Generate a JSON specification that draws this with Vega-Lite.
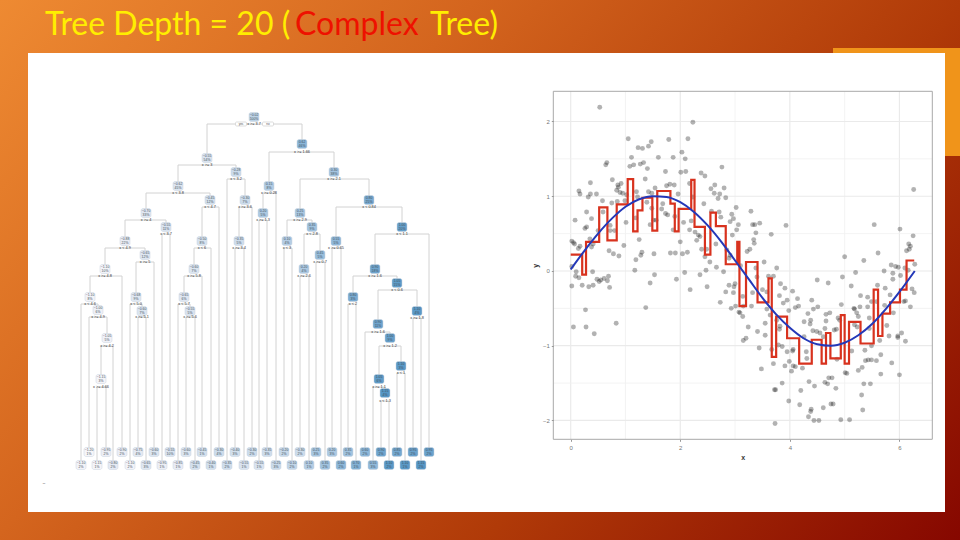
{"$schema":"https://vega.github.io/schema/vega-lite/v6.json","width":960,"height":540,"padding":0,"autosize":"none","view":{"stroke":null},"config":{"view":{"stroke":null}},
"datasets":{
"nodes":[{"x":254,"y":117,"y2":117,"v":-0.02,"pct":"100%"},{"x":207,"y":158,"y2":124,"v":-0.55,"pct":"54%"},{"x":302,"y":144,"y2":124,"v":0.62,"pct":"46%"},{"x":178,"y":186,"y2":165,"v":-0.62,"pct":"45%"},{"x":236,"y":172,"y2":165,"v":-0.28,"pct":"9%"},{"x":146,"y":213,"y2":193,"v":-0.7,"pct":"33%"},{"x":210,"y":200,"y2":193,"v":-0.45,"pct":"12%"},{"x":125,"y":241,"y2":220,"v":-0.88,"pct":"22%"},{"x":166,"y":227,"y2":220,"v":-0.55,"pct":"11%"},{"x":105,"y":269,"y2":248,"v":-1.1,"pct":"10%"},{"x":145,"y":255,"y2":248,"v":-0.65,"pct":"12%"},{"x":90,"y":297,"y2":276,"v":-1.1,"pct":"8%"},{"x":98,"y":310,"y2":304,"v":-1.0,"pct":"6%"},{"x":107,"y":338,"y2":317,"v":-1.05,"pct":"5%"},{"x":101,"y":379,"y2":346,"v":-1.15,"pct":"3%"},{"x":136,"y":297,"y2":262,"v":-0.68,"pct":"9%"},{"x":142,"y":311,"y2":304,"v":-0.6,"pct":"7%"},{"x":202,"y":241,"y2":207,"v":-0.5,"pct":"8%"},{"x":194,"y":269,"y2":248,"v":-0.6,"pct":"7%"},{"x":184,"y":297,"y2":276,"v":-0.65,"pct":"6%"},{"x":190,"y":311,"y2":304,"v":-0.55,"pct":"5%"},{"x":245,"y":200,"y2":179,"v":-0.3,"pct":"7%"},{"x":239,"y":241,"y2":207,"v":-0.35,"pct":"5%"},{"x":269,"y":186,"y2":152,"v":0.15,"pct":"8%"},{"x":334,"y":172,"y2":152,"v":0.3,"pct":"38%"},{"x":263,"y":213,"y2":193,"v":0.2,"pct":"5%"},{"x":300,"y":213,"y2":179,"v":0.25,"pct":"13%"},{"x":369,"y":200,"y2":179,"v":0.8,"pct":"25%"},{"x":287,"y":241,"y2":220,"v":0.1,"pct":"4%"},{"x":312,"y":227,"y2":220,"v":0.35,"pct":"9%"},{"x":304,"y":269,"y2":234,"v":0.2,"pct":"4%"},{"x":320,"y":255,"y2":234,"v":0.45,"pct":"5%"},{"x":336,"y":241,"y2":207,"v":0.55,"pct":"5%"},{"x":402,"y":227,"y2":207,"v":1.0,"pct":"20%"},{"x":375,"y":269,"y2":234,"v":0.9,"pct":"18%"},{"x":353,"y":297,"y2":276,"v":0.8,"pct":"3%"},{"x":397,"y":283,"y2":276,"v":1.05,"pct":"15%"},{"x":378,"y":324,"y2":290,"v":0.9,"pct":"11%"},{"x":417,"y":311,"y2":290,"v":1.1,"pct":"4%"},{"x":390,"y":338,"y2":332,"v":1.0,"pct":"9%"},{"x":379,"y":379,"y2":346,"v":1.05,"pct":"6%"},{"x":401,"y":366,"y2":346,"v":1.1,"pct":"3%"},{"x":385,"y":393,"y2":387,"v":1.15,"pct":"4%"},
{"x":81,"y":465,"y2":304,"v":-1.1,"pct":"2%"},{"x":89,"y":452,"y2":317,"v":-1.2,"pct":"1%"},{"x":97,"y":465,"y2":387,"v":-1.15,"pct":"1%"},{"x":106,"y":452,"y2":387,"v":-0.95,"pct":"2%"},{"x":113,"y":465,"y2":346,"v":-0.8,"pct":"2%"},{"x":122,"y":452,"y2":276,"v":-0.9,"pct":"2%"},{"x":130,"y":465,"y2":304,"v":-1.1,"pct":"2%"},{"x":138,"y":452,"y2":317,"v":-0.75,"pct":"4%"},{"x":146,"y":465,"y2":317,"v":-0.65,"pct":"3%"},{"x":154,"y":452,"y2":262,"v":-0.6,"pct":"3%"},{"x":162,"y":465,"y2":234,"v":-0.95,"pct":"1%"},{"x":170,"y":452,"y2":234,"v":-0.55,"pct":"10%"},{"x":178,"y":465,"y2":304,"v":-0.85,"pct":"1%"},{"x":186,"y":452,"y2":317,"v":-0.6,"pct":"3%"},{"x":195,"y":465,"y2":317,"v":-0.45,"pct":"2%"},{"x":202,"y":452,"y2":276,"v":-0.45,"pct":"1%"},{"x":211,"y":465,"y2":248,"v":-0.4,"pct":"1%"},{"x":219,"y":452,"y2":207,"v":-0.3,"pct":"4%"},{"x":227,"y":465,"y2":179,"v":-0.35,"pct":"2%"},{"x":235,"y":452,"y2":248,"v":-0.4,"pct":"3%"},{"x":244,"y":465,"y2":248,"v":-0.55,"pct":"1%"},{"x":252,"y":452,"y2":207,"v":-0.3,"pct":"2%"},{"x":259,"y":465,"y2":220,"v":-0.55,"pct":"1%"},{"x":267,"y":452,"y2":220,"v":-0.35,"pct":"3%"},{"x":276,"y":465,"y2":193,"v":-0.25,"pct":"3%"},{"x":284,"y":452,"y2":248,"v":-0.2,"pct":"2%"},{"x":292,"y":465,"y2":248,"v":-0.1,"pct":"2%"},{"x":300,"y":452,"y2":276,"v":-0.3,"pct":"2%"},{"x":309,"y":465,"y2":276,"v":0.1,"pct":"1%"},{"x":316,"y":452,"y2":262,"v":0.25,"pct":"3%"},{"x":325,"y":465,"y2":262,"v":0.35,"pct":"2%"},{"x":332,"y":452,"y2":248,"v":0.2,"pct":"3%"},{"x":341,"y":465,"y2":248,"v":0.6,"pct":"2%"},{"x":348,"y":452,"y2":304,"v":0.35,"pct":"2%"},{"x":356,"y":465,"y2":304,"v":0.7,"pct":"1%"},{"x":365,"y":452,"y2":332,"v":0.6,"pct":"2%"},{"x":373,"y":465,"y2":387,"v":0.55,"pct":"3%"},{"x":381,"y":452,"y2":401,"v":0.9,"pct":"2%"},{"x":389,"y":465,"y2":401,"v":1.1,"pct":"2%"},{"x":397,"y":452,"y2":373,"v":0.85,"pct":"2%"},{"x":405,"y":465,"y2":373,"v":1.1,"pct":"1%"},{"x":413,"y":452,"y2":318,"v":0.95,"pct":"2%"},{"x":421,"y":465,"y2":318,"v":1.15,"pct":"2%"},{"x":429,"y":452,"y2":234,"v":0.95,"pct":"2%"}],
"splits":[{"x":207,"x2":302,"y":124,"cx":254,"label":"x >= 3.7"},{"x":178,"x2":236,"y":165,"cx":207,"label":"x >= 3"},{"x":146,"x2":210,"y":193,"cx":178,"label":"x < 3.8"},{"x":125,"x2":166,"y":220,"cx":146,"label":"x >= 4"},{"x":105,"x2":145,"y":248,"cx":125,"label":"x < 4.9"},{"x":90,"x2":122,"y":276,"cx":105,"label":"x >= 4.8"},{"x":81,"x2":98,"y":304,"cx":90,"label":"x < 4.6"},{"x":89,"x2":107,"y":317,"cx":98,"label":"x >= 4.9"},{"x":101,"x2":113,"y":346,"cx":107,"label":"x >= 4.2"},{"x":97,"x2":106,"y":387,"cx":101,"label":"x >= 4.66"},{"x":136,"x2":154,"y":262,"cx":145,"label":"x >= 5"},{"x":130,"x2":142,"y":304,"cx":136,"label":"x < 5.0"},{"x":138,"x2":146,"y":317,"cx":142,"label":"x >= 5.1"},{"x":162,"x2":170,"y":234,"cx":166,"label":"x < 3.7"},{"x":202,"x2":219,"y":207,"cx":210,"label":"x < 4.7"},{"x":194,"x2":211,"y":248,"cx":202,"label":"x < 6"},{"x":184,"x2":202,"y":276,"cx":194,"label":"x >= 5.8"},{"x":178,"x2":190,"y":304,"cx":184,"label":"x < 5.7"},{"x":186,"x2":195,"y":317,"cx":190,"label":"x >= 5.6"},{"x":227,"x2":245,"y":179,"cx":236,"label":"x < 3.2"},{"x":239,"x2":252,"y":207,"cx":245,"label":"x >= 3.6"},{"x":235,"x2":244,"y":248,"cx":239,"label":"x >= 3.4"},{"x":269,"x2":334,"y":152,"cx":302,"label":"x >= 1.66"},{"x":263,"x2":276,"y":193,"cx":269,"label":"x >= 0.28"},{"x":259,"x2":267,"y":220,"cx":263,"label":"x >= 1.3"},{"x":300,"x2":369,"y":179,"cx":334,"label":"x >= 2.1"},{"x":287,"x2":312,"y":220,"cx":300,"label":"x >= 2.9"},{"x":284,"x2":292,"y":248,"cx":287,"label":"x < 3"},{"x":304,"x2":320,"y":234,"cx":312,"label":"x < 2.8"},{"x":300,"x2":309,"y":276,"cx":304,"label":"x >= 2.6"},{"x":316,"x2":325,"y":262,"cx":320,"label":"x >= 0.7"},{"x":336,"x2":402,"y":207,"cx":369,"label":"x < 0.84"},{"x":332,"x2":341,"y":248,"cx":336,"label":"x >= 0.65"},{"x":375,"x2":429,"y":234,"cx":402,"label":"x < 1.1"},{"x":353,"x2":397,"y":276,"cx":375,"label":"x >= 1.6"},{"x":348,"x2":356,"y":304,"cx":353,"label":"x < 2"},{"x":378,"x2":417,"y":290,"cx":397,"label":"x < 0.6"},{"x":413,"x2":421,"y":318,"cx":417,"label":"x >= 1.8"},{"x":365,"x2":390,"y":332,"cx":378,"label":"x >= 1.6"},{"x":379,"x2":401,"y":346,"cx":390,"label":"x >= 1.2"},{"x":397,"x2":405,"y":373,"cx":401,"label":"x < 1"},{"x":373,"x2":385,"y":387,"cx":379,"label":"x >= 1.1"},{"x":381,"x2":389,"y":401,"cx":385,"label":"x < 1.3"}],
"pts":[{"x":0.53,"y":2.19},{"x":2.23,"y":1.99},{"x":1.05,"y":1.77},{"x":1.79,"y":1.76},{"x":2.14,"y":1.77},{"x":1.47,"y":1.73},{"x":1.42,"y":1.67},{"x":1.23,"y":1.65},{"x":1.31,"y":1.64},{"x":2.03,"y":1.59},{"x":1.11,"y":1.52},{"x":1.6,"y":1.52},{"x":1.87,"y":1.52},{"x":2.09,"y":1.5},{"x":0.66,"y":1.45},{"x":0.64,"y":1.42},{"x":1.08,"y":1.4},{"x":1.15,"y":1.42},{"x":1.27,"y":1.43},{"x":1.33,"y":1.45},{"x":1.4,"y":1.37},{"x":1.73,"y":1.33},{"x":2.01,"y":1.32},{"x":2.1,"y":1.33},{"x":2.38,"y":1.31},{"x":2.45,"y":1.27},{"x":2.76,"y":1.39},{"x":1.36,"y":1.23},{"x":0.76,"y":1.22},{"x":0.36,"y":1.18},{"x":0.92,"y":1.17},{"x":0.86,"y":1.15},{"x":0.87,"y":1.12},{"x":0.84,"y":1.08},{"x":0.9,"y":1.05},{"x":0.15,"y":1.07},{"x":0.17,"y":1.03},{"x":0.36,"y":1.03},{"x":0.32,"y":0.99},{"x":0.47,"y":1.03},{"x":0.95,"y":1.04},{"x":1.02,"y":1.02},{"x":1.2,"y":1.06},{"x":1.22,"y":0.99},{"x":1.42,"y":1.06},{"x":1.54,"y":1.11},{"x":1.48,"y":1.04},{"x":1.75,"y":1.14},{"x":1.81,"y":1.16},{"x":1.89,"y":1.15},{"x":1.96,"y":1.03},{"x":2.17,"y":1.17},{"x":2.23,"y":0.99},{"x":2.56,"y":1.1},{"x":2.63,"y":1.15},{"x":2.8,"y":1.11},{"x":2.62,"y":1.04},{"x":2.72,"y":1.03},{"x":2.69,"y":0.97},{"x":2.83,"y":0.98},{"x":2.43,"y":0.9},{"x":3.02,"y":0.85},{"x":0.58,"y":0.94},{"x":0.75,"y":0.91},{"x":0.85,"y":0.93},{"x":0.99,"y":0.94},{"x":1.39,"y":0.92},{"x":1.68,"y":0.9},{"x":0.29,"y":0.79},{"x":0.59,"y":0.79},{"x":0.38,"y":0.7},{"x":0.08,"y":0.68},{"x":1.01,"y":0.65},{"x":1.19,"y":0.71},{"x":1.48,"y":0.84},{"x":1.66,"y":0.83},{"x":1.73,"y":0.77},{"x":1.77,"y":0.75},{"x":1.51,"y":0.68},{"x":1.56,"y":0.68},{"x":1.45,"y":0.62},{"x":1.9,"y":0.73},{"x":2.06,"y":0.65},{"x":2.2,"y":0.67},{"x":2.57,"y":0.8},{"x":2.71,"y":0.79},{"x":2.74,"y":0.72},{"x":2.94,"y":0.76},{"x":2.97,"y":0.7},{"x":2.91,"y":0.66},{"x":3.06,"y":0.62},{"x":3.03,"y":0.55},{"x":2.95,"y":0.48},{"x":0.26,"y":0.57},{"x":0.29,"y":0.59},{"x":0.5,"y":0.54},{"x":0.72,"y":0.61},{"x":0.72,"y":0.54},{"x":0.8,"y":0.54},{"x":1.87,"y":0.55},{"x":2.17,"y":0.55},{"x":2.27,"y":0.52},{"x":2.33,"y":0.48},{"x":2.36,"y":0.46},{"x":2.3,"y":0.41},{"x":2.0,"y":0.39},{"x":1.25,"y":0.42},{"x":0.02,"y":0.4},{"x":0.05,"y":0.38},{"x":0.07,"y":0.36},{"x":0.35,"y":0.43},{"x":0.17,"y":0.33},{"x":0.14,"y":0.3},{"x":0.41,"y":0.36},{"x":0.38,"y":0.32},{"x":0.97,"y":0.34},{"x":0.7,"y":0.27},{"x":0.78,"y":0.23},{"x":0.88,"y":0.2},{"x":1.3,"y":0.25},{"x":1.28,"y":0.21},{"x":1.19,"y":0.15},{"x":1.52,"y":0.23},{"x":1.82,"y":0.24},{"x":1.91,"y":0.24},{"x":2.04,"y":0.23},{"x":2.13,"y":0.25},{"x":2.39,"y":0.29},{"x":2.48,"y":0.29},{"x":2.45,"y":0.19},{"x":2.54,"y":0.12},{"x":2.66,"y":0.05},{"x":2.47,"y":0.01},{"x":1.17,"y":0.01},{"x":2.91,"y":0.21},{"x":2.85,"y":0.28},{"x":2.89,"y":0.17},{"x":2.65,"y":0.36},{"x":0.02,"y":0.06},{"x":0.1,"y":-0.01},{"x":0.4,"y":-0.01},{"x":1.53,"y":-0.05},{"x":2.08,"y":-0.02},{"x":2.36,"y":-0.05},{"x":2.79,"y":-0.01},{"x":0.02,"y":-0.2},{"x":0.09,"y":-0.07},{"x":0.15,"y":-0.09},{"x":0.21,"y":-0.19},{"x":0.33,"y":-0.21},{"x":0.41,"y":-0.19},{"x":0.48,"y":-0.11},{"x":0.52,"y":-0.14},{"x":0.55,"y":-0.12},{"x":0.61,"y":-0.1},{"x":0.69,"y":-0.07},{"x":0.67,"y":-0.13},{"x":0.71,"y":-0.22},{"x":1.45,"y":-0.16},{"x":1.93,"y":-0.11},{"x":2.18,"y":-0.25},{"x":2.49,"y":-0.21},{"x":2.89,"y":-0.19},{"x":3.0,"y":-0.17},{"x":2.98,"y":-0.21},{"x":2.83,"y":-0.28},{"x":2.97,"y":-0.29},{"x":2.73,"y":-0.42},{"x":2.93,"y":-0.5},{"x":3.01,"y":-0.47},{"x":3.07,"y":-0.55},{"x":1.37,"y":-0.49},{"x":0.27,"y":-0.52},{"x":0.05,"y":-0.75},{"x":0.28,"y":-0.75},{"x":0.43,"y":-0.84},{"x":0.83,"y":-0.7},{"x":6.26,"y":1.09},{"x":3.29,"y":0.8},{"x":3.32,"y":0.62},{"x":3.36,"y":0.62},{"x":3.45,"y":0.64},{"x":3.93,"y":0.61},{"x":3.38,"y":0.51},{"x":3.66,"y":0.49},{"x":3.34,"y":0.42},{"x":3.35,"y":0.37},{"x":3.27,"y":0.29},{"x":3.22,"y":0.26},{"x":3.53,"y":0.12},{"x":3.76,"y":0.04},{"x":3.38,"y":0.04},{"x":3.1,"y":0.07},{"x":5.54,"y":0.62},{"x":6.01,"y":0.56},{"x":6.25,"y":0.47},{"x":6.17,"y":0.36},{"x":6.2,"y":0.33},{"x":6.18,"y":0.29},{"x":6.13,"y":0.27},{"x":5.61,"y":0.24},{"x":5.0,"y":0.19},{"x":5.35,"y":0.14},{"x":5.85,"y":0.08},{"x":5.93,"y":0.06},{"x":5.98,"y":0.05},{"x":6.28,"y":0.09},{"x":5.72,"y":0.0},{"x":6.1,"y":0.04},{"x":6.16,"y":0.01},{"x":4.96,"y":-0.08},{"x":5.2,"y":-0.02},{"x":5.88,"y":-0.03},{"x":5.88,"y":-0.11},{"x":6.02,"y":-0.06},{"x":4.5,"y":-0.12},{"x":4.7,"y":-0.16},{"x":3.83,"y":-0.17},{"x":3.91,"y":-0.23},{"x":4.05,"y":-0.27},{"x":3.81,"y":-0.33},{"x":3.95,"y":-0.39},{"x":4.14,"y":-0.37},{"x":3.88,"y":-0.43},{"x":4.16,"y":-0.47},{"x":4.1,"y":-0.49},{"x":3.98,"y":-0.53},{"x":4.4,"y":-0.39},{"x":4.43,"y":-0.51},{"x":4.51,"y":-0.48},{"x":4.33,"y":-0.57},{"x":5.12,"y":-0.2},{"x":5.29,"y":-0.33},{"x":5.42,"y":-0.35},{"x":5.6,"y":-0.19},{"x":5.74,"y":-0.23},{"x":5.83,"y":-0.32},{"x":6.23,"y":-0.24},{"x":6.27,"y":-0.29},{"x":6.11,"y":-0.4},{"x":6.2,"y":-0.48},{"x":4.94,"y":-0.45},{"x":5.17,"y":-0.5},{"x":5.28,"y":-0.48},{"x":5.42,"y":-0.48},{"x":5.22,"y":-0.56},{"x":5.25,"y":-0.61},{"x":5.45,"y":-0.63},{"x":5.45,"y":-0.77},{"x":5.58,"y":-0.41},{"x":5.73,"y":-0.46},{"x":5.89,"y":-0.56},{"x":5.77,"y":-0.73},{"x":5.81,"y":-0.87},{"x":5.97,"y":-0.87},{"x":6.04,"y":-0.83},{"x":5.97,"y":-0.89},{"x":6.11,"y":-0.94},{"x":4.38,"y":-0.66},{"x":4.26,"y":-0.68},{"x":4.37,"y":-0.71},{"x":4.66,"y":-0.67},{"x":4.66,"y":-0.58},{"x":4.73,"y":-0.56},{"x":4.88,"y":-0.63},{"x":4.91,"y":-0.66},{"x":4.85,"y":-0.78},{"x":4.81,"y":-0.79},{"x":4.49,"y":-0.81},{"x":4.55,"y":-0.83},{"x":4.61,"y":-0.88},{"x":4.42,"y":-0.8},{"x":4.26,"y":-0.88},{"x":3.82,"y":-0.74},{"x":3.81,"y":-0.78},{"x":3.55,"y":-0.7},{"x":3.24,"y":-0.75},{"x":3.41,"y":-0.81},{"x":3.55,"y":-0.86},{"x":3.2,"y":-0.9},{"x":3.15,"y":-0.93},{"x":3.44,"y":-1.03},{"x":3.67,"y":-1.05},{"x":3.79,"y":-0.99},{"x":3.86,"y":-1.01},{"x":3.95,"y":-1.08},{"x":4.05,"y":-1.07},{"x":4.06,"y":-1.05},{"x":4.3,"y":-1.08},{"x":4.31,"y":-1.17},{"x":3.99,"y":-1.21},{"x":3.91,"y":-1.27},{"x":3.7,"y":-1.24},{"x":4.06,"y":-1.27},{"x":4.1,"y":-1.28},{"x":4.03,"y":-1.34},{"x":4.23,"y":-1.3},{"x":3.48,"y":-1.31},{"x":4.35,"y":-1.48},{"x":4.45,"y":-1.54},{"x":3.86,"y":-1.5},{"x":3.72,"y":-1.59},{"x":3.74,"y":-1.59},{"x":4.2,"y":-1.6},{"x":3.98,"y":-1.74},{"x":4.18,"y":-1.79},{"x":4.39,"y":-1.85},{"x":4.38,"y":-1.88},{"x":4.34,"y":-1.95},{"x":4.44,"y":-2.0},{"x":4.53,"y":-2.0},{"x":3.73,"y":-2.04},{"x":4.61,"y":-1.83},{"x":4.75,"y":-1.78},{"x":4.79,"y":-1.78},{"x":4.93,"y":-1.99},{"x":5.09,"y":-1.99},{"x":5.33,"y":-1.86},{"x":5.31,"y":-1.66},{"x":5.35,"y":-1.51},{"x":5.47,"y":-1.51},{"x":5.66,"y":-1.38},{"x":6.0,"y":-1.39},{"x":5.86,"y":-1.23},{"x":5.66,"y":-1.12},{"x":5.58,"y":-1.2},{"x":5.49,"y":-1.19},{"x":5.43,"y":-1.19},{"x":5.38,"y":-1.2},{"x":5.37,"y":-1.06},{"x":5.32,"y":-1.29},{"x":5.25,"y":-1.33},{"x":5.13,"y":-1.07},{"x":5.04,"y":-1.37},{"x":5.01,"y":-1.36},{"x":4.71,"y":-1.43},{"x":4.77,"y":-1.43},{"x":4.64,"y":-1.49},{"x":4.69,"y":-1.51},{"x":4.84,"y":-1.57},{"x":4.86,"y":-1.18},{"x":3.3,"y":-0.47},{"x":3.32,"y":-0.29},{"x":3.58,"y":-0.51},{"x":3.64,"y":-0.59},{"x":3.09,"y":-0.56},{"x":3.14,"y":-0.61},{"x":3.4,"y":-0.08},{"x":3.61,"y":-0.07},{"x":3.7,"y":-0.07},{"x":3.5,"y":-0.25},{"x":3.58,"y":-0.28},{"x":3.14,"y":-0.34},{"x":3.15,"y":-0.47},{"x":3.76,"y":-0.66},{"x":4.64,"y":-0.77},{"x":5.18,"y":-0.72},{"x":5.23,"y":-0.75},{"x":5.18,"y":-0.51},{"x":5.49,"y":-0.41},{"x":5.64,"y":-0.93},{"x":5.49,"y":-1.0},{"x":6.08,"y":-0.41}],
"stepline":[{"x":0.0,"y":0.22},{"x":0.21,"y":-0.05},{"x":0.28,"y":0.39},{"x":0.52,"y":0.85},{"x":0.67,"y":0.41},{"x":0.84,"y":0.89},{"x":1.04,"y":1.23},{"x":1.14,"y":0.53},{"x":1.22,"y":0.81},{"x":1.31,"y":0.98},{"x":1.49,"y":0.54},{"x":1.58,"y":1.07},{"x":1.82,"y":0.9},{"x":1.9,"y":0.53},{"x":1.97,"y":0.83},{"x":2.2,"y":1.22},{"x":2.26,"y":0.59},{"x":2.45,"y":0.22},{"x":2.55,"y":0.78},{"x":2.65,"y":0.6},{"x":2.83,"y":0.09},{"x":3.04,"y":0.39},{"x":3.08,"y":-0.47},{"x":3.2,"y":0.12},{"x":3.41,"y":-0.42},{"x":3.61,"y":-0.1},{"x":3.67,"y":-1.15},{"x":3.75,"y":-0.61},{"x":3.95,"y":-0.9},{"x":4.17,"y":-1.24},{"x":4.4,"y":-0.92},{"x":4.58,"y":-1.24},{"x":4.66,"y":-0.83},{"x":4.74,"y":-1.17},{"x":4.93,"y":-0.59},{"x":5.0,"y":-1.24},{"x":5.08,"y":-0.68},{"x":5.29,"y":-0.97},{"x":5.53,"y":-0.25},{"x":5.61,"y":-0.87},{"x":5.69,"y":-0.57},{"x":5.83,"y":-0.42},{"x":6.01,"y":-0.25},{"x":6.13,"y":0.14},{"x":6.27,"y":0.14}],
"smooth":[{"x":0.0,"y":0.02},{"x":0.25,"y":0.27},{"x":0.5,"y":0.5},{"x":0.75,"y":0.7},{"x":1.0,"y":0.86},{"x":1.25,"y":0.96},{"x":1.5,"y":1.0},{"x":1.75,"y":0.99},{"x":2.0,"y":0.92},{"x":2.25,"y":0.79},{"x":2.5,"y":0.61},{"x":2.75,"y":0.39},{"x":3.0,"y":0.14},{"x":3.25,"y":-0.11},{"x":3.5,"y":-0.36},{"x":3.75,"y":-0.58},{"x":4.0,"y":-0.76},{"x":4.25,"y":-0.9},{"x":4.5,"y":-0.98},{"x":4.75,"y":-1.0},{"x":5.0,"y":-0.96},{"x":5.25,"y":-0.86},{"x":5.5,"y":-0.71},{"x":5.75,"y":-0.51},{"x":6.0,"y":-0.28},{"x":6.28,"y":0.0}]
},
"resolve":{"scale":{"x":"independent","y":"independent","color":"independent"},"axis":{"x":"independent","y":"independent"}},
"layer":[
{"encoding":{"x":{"field":"x","type":"quantitative","scale":{"domain":[0,960],"range":[0,960],"zero":false,"nice":false},"axis":null},"y":{"field":"y","type":"quantitative","scale":{"domain":[0,540],"range":[0,540],"zero":false,"nice":false},"axis":null}},
"layer":[
{"data":{"values":[{"x":0,"x2":960,"y":0,"y2":540}]},"mark":{"type":"rect","fill":{"gradient":"linear","x1":0,"y1":0,"x2":1.2,"y2":0.6,"stops":[{"offset":0,"color":"#ee8a32"},{"offset":0.33,"color":"#d4651e"},{"offset":0.67,"color":"#b03a08"},{"offset":1,"color":"#860700"}]}},"encoding":{"x2":{"field":"x2"},"y2":{"field":"y2"}}},
{"data":{"values":[{"x":833,"x2":960,"y":48,"y2":156}]},"mark":{"type":"rect","fill":"#f0941a"},"encoding":{"x2":{"field":"x2"},"y2":{"field":"y2"}}},
{"data":{"values":[{"x":28,"x2":945,"y":53,"y2":512}]},"mark":{"type":"rect","fill":"#ffffff"},"encoding":{"x2":{"field":"x2"},"y2":{"field":"y2"}}},
{"data":{"values":[{"x":45,"y":35,"t":"Tree Depth = 20 (","tone":"yellow"},{"x":295,"y":35,"t":"Complex","tone":"red"},{"x":430,"y":35,"t":"Tree)","tone":"yellow"}]},"mark":{"type":"text","font":"Lato","fontSize":32,"align":"left","baseline":"alphabetic"},"encoding":{"text":{"field":"t"},"color":{"field":"tone","type":"nominal","scale":{"domain":["yellow","red"],"range":["#ffee00","#ee1100"]},"legend":null}}},
{"data":{"name":"splits"},"mark":{"type":"rule","color":"#d2d2d2","strokeWidth":1},"encoding":{"x2":{"field":"x2"}}},
{"data":{"name":"nodes"},"mark":{"type":"rule","color":"#d2d2d2","strokeWidth":1},"encoding":{"y2":{"field":"y2"}}},
{"data":{"values":[{"x":241,"y":124,"t":"yes"},{"x":268,"y":124,"t":"no"}]},"layer":[{"mark":{"type":"rect","width":11,"height":4,"cornerRadius":1,"fill":"#ffffff","stroke":"#c8c8c8","strokeWidth":0.6}},{"mark":{"type":"text","fontSize":3,"color":"#555555"},"encoding":{"text":{"field":"t"}}}]},
{"data":{"name":"nodes"},"mark":{"type":"rect","width":10,"height":9,"cornerRadius":2,"stroke":"#c9d2de","strokeWidth":0.5},"encoding":{"color":{"field":"v","type":"quantitative","scale":{"domain":[-1.2,-0.5,0,0.6,1.2],"range":["#f6f6f9","#d6e2ee","#bcd2e6","#8cb7d9","#4f93c3"]},"legend":null}}},
{"data":{"name":"nodes"},"mark":{"type":"text","fontSize":3.4,"color":"#45505c","dy":-2},"encoding":{"text":{"field":"v","type":"quantitative","format":".2f"}}},
{"data":{"name":"nodes"},"mark":{"type":"text","fontSize":3.4,"color":"#45505c","dy":2},"encoding":{"text":{"field":"pct"}}},
{"data":{"name":"splits"},"mark":{"type":"text","fontSize":3.8,"color":"#333333"},"encoding":{"x":{"field":"cx","type":"quantitative","scale":{"domain":[0,960],"range":[0,960],"zero":false,"nice":false},"axis":null},"text":{"field":"label"}}},
{"data":{"values":[{"x":44,"y":483,"t":"~"}]},"mark":{"type":"text","fontSize":5,"color":"#888888"},"encoding":{"text":{"field":"t"}}}
]},
{"encoding":{"x":{"field":"x","type":"quantitative","scale":{"domain":[-0.3175,6.6],"range":[553.3,932.3],"zero":false,"nice":false},"axis":{"zindex":1,"values":[0,2,4,6],"offset":-100.7,"grid":false,"domain":false,"tickSize":2,"tickColor":"#999999","labelFontSize":6,"labelColor":"#777777","labelPadding":3,"title":"x","titleFontSize":7,"titleFontWeight":"bold","titleColor":"#333333","titlePadding":3}},"y":{"field":"y","type":"quantitative","scale":{"domain":[-2.252,2.404],"range":[439.3,91.3],"zero":false,"nice":false},"axis":{"zindex":1,"values":[-2,-1,0,1,2],"offset":-553.3,"grid":false,"domain":false,"tickSize":2,"tickColor":"#999999","labelFontSize":6,"labelColor":"#777777","labelPadding":2,"title":"y","titleFontSize":7,"titleFontWeight":"bold","titleColor":"#333333","titlePadding":4}}},
"layer":[
{"data":{"values":[{"x":0,"y":-2.252,"y2":2.404},{"x":2,"y":-2.252,"y2":2.404},{"x":4,"y":-2.252,"y2":2.404},{"x":6,"y":-2.252,"y2":2.404}]},"mark":{"type":"rule","color":"#eaeaea","strokeWidth":1.2},"encoding":{"y2":{"field":"y2"}}},
{"data":{"values":[{"x":1,"y":-2.252,"y2":2.404},{"x":3,"y":-2.252,"y2":2.404},{"x":5,"y":-2.252,"y2":2.404}]},"mark":{"type":"rule","color":"#f0f0f0","strokeWidth":0.8},"encoding":{"y2":{"field":"y2"}}},
{"data":{"values":[{"y":-2,"x":-0.3175,"x2":6.6},{"y":-1,"x":-0.3175,"x2":6.6},{"y":0,"x":-0.3175,"x2":6.6},{"y":1,"x":-0.3175,"x2":6.6},{"y":2,"x":-0.3175,"x2":6.6}]},"mark":{"type":"rule","color":"#eaeaea","strokeWidth":1.2},"encoding":{"x2":{"field":"x2"}}},
{"data":{"values":[{"y":-1.5,"x":-0.3175,"x2":6.6},{"y":-0.5,"x":-0.3175,"x2":6.6},{"y":0.5,"x":-0.3175,"x2":6.6},{"y":1.5,"x":-0.3175,"x2":6.6}]},"mark":{"type":"rule","color":"#f0f0f0","strokeWidth":0.8},"encoding":{"x2":{"field":"x2"}}},
{"data":{"values":[{"x":-0.3175,"x2":6.6,"y":-2.252,"y2":2.404}]},"mark":{"type":"rect","fillOpacity":0,"stroke":"#a8a8a8","strokeWidth":1},"encoding":{"x2":{"field":"x2"},"y2":{"field":"y2"}}},
{"data":{"name":"pts"},"mark":{"type":"circle","size":24,"color":"#000000","opacity":0.3}},
{"data":{"name":"stepline"},"mark":{"type":"line","interpolate":"step-after","color":"#d8321e","strokeWidth":2.2}},
{"data":{"name":"smooth"},"mark":{"type":"line","interpolate":"monotone","color":"#2438b8","strokeWidth":2}}
]}
]}
